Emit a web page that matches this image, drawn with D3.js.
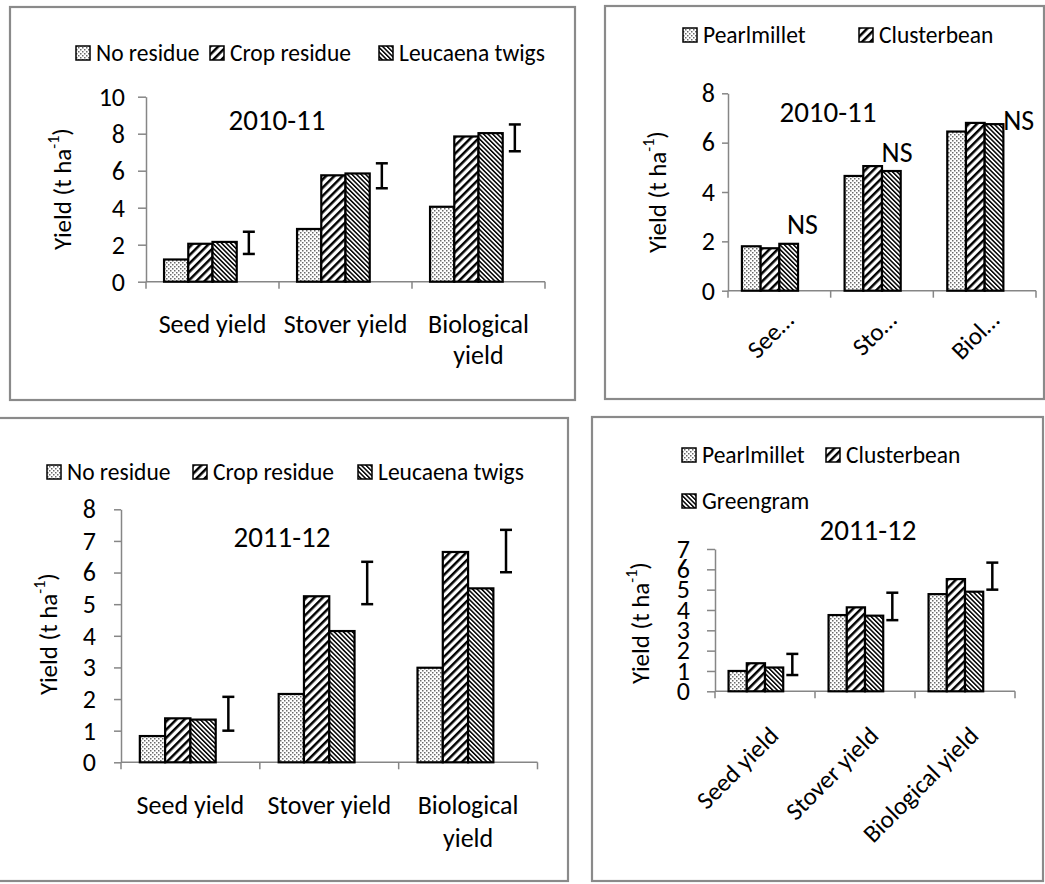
<!DOCTYPE html>
<html>
<head>
<meta charset="utf-8">
<script src="https://cdn.jsdelivr.net/npm/d3@7"></script>
<style>
  html, body { margin: 0; padding: 0; background: #fff; }
  svg { display: block; }
  text { font-family: Carlito, Lato, sans-serif; fill: #000; }
</style>
</head>
<body>
<svg id="fig" width="1045" height="884"></svg>
<script>
// ---- data ----
const categories = ["Seed yield", "Stover yield", "Biological yield"];
const categoriesClipped = ["See…", "Sto…", "Biol…"];
const residueTreatments = ["No residue", "Crop residue", "Leucaena twigs"];
const crops = ["Pearlmillet", "Clusterbean", "Greengram"];

// 2010-11, residue treatments (t ha-1), one array per treatment over categories
const res2010None = [1.2, 2.85, 4.05];
const res2010Crop = [2.05, 5.75, 7.85];
const res2010Leucaena = [2.15, 5.85, 8.03];
const res2010CD = [[1.5, 2.7], [5.05, 6.4], [7.05, 8.5]];

// 2010-11, crops
const crop2010Pearlmillet = [1.8, 4.65, 6.45];
const crop2010Clusterbean = [1.72, 5.05, 6.8];
const crop2010Greengram = [1.9, 4.85, 6.75];
const crop2010NSLevel = [2.7, 5.6, 6.9];

// 2011-12, residue treatments
const res2011None = [0.83, 2.16, 2.99];
const res2011Crop = [1.39, 5.25, 6.65];
const res2011Leucaena = [1.35, 4.15, 5.5];
const res2011CD = [[1.0, 2.07], [5.0, 6.34], [6.01, 7.35]];

// 2011-12, crops
const crop2011Pearlmillet = [1.0, 3.75, 4.78];
const crop2011Clusterbean = [1.38, 4.13, 5.52];
const crop2011Greengram = [1.17, 3.72, 4.9];
const crop2011CD = [[0.8, 1.84], [3.5, 4.85], [5.0, 6.33]];

// tick labels
const ticksTo10 = [0, 2, 4, 6, 8, 10];
const ticksTo8By2 = [0, 2, 4, 6, 8];
const ticksTo8 = [0, 1, 2, 3, 4, 5, 6, 7, 8];
const ticksTo7 = [0, 1, 2, 3, 4, 5, 6, 7];

// ---- drawing ----
const svg = d3.select("#fig");
svg.append("rect").attr("width", 1045).attr("height", 884).attr("fill", "#fff");
const defs = svg.append("defs");

function dotPattern(id) {
  const p = defs.append("pattern").attr("id", id)
    .attr("patternUnits", "userSpaceOnUse").attr("width", 4).attr("height", 4);
  p.append("rect").attr("width", 4).attr("height", 4).attr("fill", "#fff");
  p.append("rect").attr("x", 0).attr("y", 0).attr("width", 1.5).attr("height", 1.5).attr("fill", "#6a6a6a");
  p.append("rect").attr("x", 2).attr("y", 2).attr("width", 1.5).attr("height", 1.5).attr("fill", "#6a6a6a");
}
function stripePattern(id, spacing, thick, angle) {
  const p = defs.append("pattern").attr("id", id)
    .attr("patternUnits", "userSpaceOnUse")
    .attr("width", spacing).attr("height", spacing)
    .attr("patternTransform", `rotate(${angle})`);
  p.append("rect").attr("width", spacing).attr("height", spacing).attr("fill", "#fff");
  p.append("rect").attr("x", 0).attr("y", 0).attr("width", thick).attr("height", spacing).attr("fill", "#000");
}
dotPattern("fillDots");
stripePattern("fillWideUp", 5.8, 2.5, 45);
stripePattern("fillNarrowDown", 3.2, 1.5, -45);
const fills = ["url(#fillDots)", "url(#fillWideUp)", "url(#fillNarrowDown)"];

// font sizes
const FS = { tick: 26, legend: 23.5, title: 29, ylab: 25, sup: 16, cat: 26, ns: 28 };

const panels = [
  {
    frame: [10, 7, 575, 400],
    xRange: [146, 545], yRange: [281.7, 96.7], yMax: 10, ticks: ticksTo10,
    tickLen: 8, tickPad: 13,
    series: [res2010None, res2010Crop, res2010Leucaena], names: residueTreatments,
    legend: [{ i: 0, x: 76, y: 53 }, { i: 1, x: 210, y: 53 }, { i: 2, x: 379, y: 53 }],
    legendGap: 20,
    title: { x: 277, y: 120, text: "2010-11" },
    ylab: { x: 62, y: 189 },
    xlab: { mode: "wrap", y: 324, lineH: 31, labels: categories },
    cd: res2010CD
  },
  {
    frame: [605, 6, 1044, 399],
    xRange: [728, 1036], yRange: [290.7, 93.3], yMax: 8, ticks: ticksTo8By2,
    tickLen: 6, tickPad: 7,
    series: [crop2010Pearlmillet, crop2010Clusterbean, crop2010Greengram], names: crops,
    legend: [{ i: 0, x: 683, y: 35 }, { i: 1, x: 859, y: 35 }],
    legendGap: 20,
    title: { x: 828, y: 112, text: "2010-11" },
    ylab: { x: 657, y: 192 },
    xlab: { mode: "rotate", dx: 16, dy: 31, labels: categoriesClipped },
    ns: crop2010NSLevel, nsShift: [-5, -13, 6]
  },
  {
    frame: [-2, 418, 568, 881],
    xRange: [121, 537.5], yRange: [762.3, 509.3], yMax: 8, ticks: ticksTo8,
    tickLen: 7, tickPad: 18,
    series: [res2011None, res2011Crop, res2011Leucaena], names: residueTreatments,
    legend: [{ i: 0, x: 47, y: 472 }, { i: 1, x: 193, y: 472 }, { i: 2, x: 358, y: 472 }],
    legendGap: 20,
    title: { x: 282, y: 537, text: "2011-12" },
    ylab: { x: 48, y: 634 },
    xlab: { mode: "wrap", y: 805, lineH: 33, labels: categories },
    cd: res2011CD
  },
  {
    frame: [592, 417, 1043, 881],
    xRange: [715, 1015], yRange: [691.3, 549], yMax: 7, ticks: ticksTo7,
    tickLen: 8, tickPad: 17,
    series: [crop2011Pearlmillet, crop2011Clusterbean, crop2011Greengram], names: crops,
    legend: [{ i: 0, x: 682, y: 455 }, { i: 1, x: 826, y: 455 }, { i: 2, x: 682, y: 501 }],
    legendGap: 20,
    title: { x: 868, y: 530, text: "2011-12" },
    ylab: { x: 640, y: 623 },
    xlab: { mode: "rotate", dx: 15, dy: 46, labels: categories },
    cd: crop2011CD
  }
];

function drawPanel(cfg) {
  const g = svg.append("g");
  const [fx0, fy0, fx1, fy1] = cfg.frame;
  g.append("rect")
    .attr("x", fx0).attr("y", fy0).attr("width", fx1 - fx0).attr("height", fy1 - fy0)
    .attr("fill", "none").attr("stroke", "#8a8a8a").attr("stroke-width", 2.2);

  const x = d3.scaleBand().domain(categories).range(cfg.xRange).padding(0);
  const slot = d3.scaleBand().domain([0, 1, 2, 3]).range([0, x.bandwidth()])
    .paddingInner(0).paddingOuter(0.745);
  const y = d3.scaleLinear().domain([0, cfg.yMax]).range(cfg.yRange);
  const bw = slot.bandwidth();
  const slotCenter = (ci, si) => x(categories[ci]) + slot(si) + bw / 2;

  // y axis
  const ya = g.append("g")
    .attr("transform", `translate(${cfg.xRange[0]},0)`)
    .call(d3.axisLeft(y).tickValues(cfg.ticks).tickSize(cfg.tickLen).tickSizeOuter(0)
      .tickPadding(cfg.tickPad).tickFormat(d3.format("d")));
  ya.select(".domain").attr("stroke", "#868686").attr("stroke-width", 1.5);
  ya.selectAll(".tick line").attr("stroke", "#868686").attr("stroke-width", 1.5);
  ya.selectAll(".tick text").attr("font-size", FS.tick)
    .attr("font-family", "Carlito, Lato, sans-serif").attr("fill", "#000");

  // x axis with ticks on category boundaries
  const bounds = categories.map(c => x(c)).concat([cfg.xRange[1]]);
  const y0 = y(0);
  g.append("line").attr("x1", cfg.xRange[0]).attr("x2", cfg.xRange[1])
    .attr("y1", y0).attr("y2", y0).attr("stroke", "#868686").attr("stroke-width", 1.5);
  g.selectAll(null).data(bounds).join("line")
    .attr("x1", d => d).attr("x2", d => d).attr("y1", y0).attr("y2", y0 + 7)
    .attr("stroke", "#868686").attr("stroke-width", 1.5);

  // bars
  cfg.series.forEach((vals, si) => {
    g.selectAll(null).data(vals).join("rect")
      .attr("x", (d, ci) => x(categories[ci]) + slot(si))
      .attr("y", d => y(d))
      .attr("width", bw)
      .attr("height", d => y(0) - y(d))
      .attr("fill", fills[si])
      .attr("stroke", "#000").attr("stroke-width", 2.2);
  });

  // critical-difference bars
  if (cfg.cd) {
    const eb = g.selectAll(null).data(cfg.cd).join("g")
      .attr("stroke", "#000").attr("stroke-width", 2.5);
    eb.append("line")
      .attr("x1", (d, ci) => slotCenter(ci, 3)).attr("x2", (d, ci) => slotCenter(ci, 3))
      .attr("y1", d => y(d[0])).attr("y2", d => y(d[1]));
    eb.append("line")
      .attr("x1", (d, ci) => slotCenter(ci, 3) - 6).attr("x2", (d, ci) => slotCenter(ci, 3) + 6)
      .attr("y1", d => y(d[0])).attr("y2", d => y(d[0]));
    eb.append("line")
      .attr("x1", (d, ci) => slotCenter(ci, 3) - 6).attr("x2", (d, ci) => slotCenter(ci, 3) + 6)
      .attr("y1", d => y(d[1])).attr("y2", d => y(d[1]));
  }
  // non-significant markers
  if (cfg.ns) {
    g.selectAll(null).data(cfg.ns).join("text")
      .attr("x", (d, ci) => slotCenter(ci, 3) + cfg.nsShift[ci])
      .attr("y", d => y(d)).attr("dy", "0.35em")
      .attr("text-anchor", "middle").attr("font-size", FS.ns)
      .text("NS");
  }

  // legend
  const lg = g.selectAll(null).data(cfg.legend).join("g")
    .attr("transform", d => `translate(${d.x},${d.y})`);
  lg.append("rect").attr("x", 0).attr("y", -7).attr("width", 14).attr("height", 14)
    .attr("fill", d => fills[d.i]).attr("stroke", "#000").attr("stroke-width", 1.5);
  lg.append("text").attr("x", cfg.legendGap).attr("y", 0).attr("dy", "0.35em")
    .attr("font-size", FS.legend).text(d => cfg.names[d.i]);

  // title
  g.append("text").attr("x", cfg.title.x).attr("y", cfg.title.y).attr("dy", "0.35em")
    .attr("text-anchor", "middle").attr("font-size", FS.title).text(cfg.title.text);

  // y label
  const yl = g.append("text")
    .attr("transform", `translate(${cfg.ylab.x},${cfg.ylab.y}) rotate(-90)`)
    .attr("text-anchor", "middle").attr("dy", "0.35em").attr("font-size", FS.ylab);
  yl.append("tspan").text("Yield (t ha");
  yl.append("tspan").attr("font-size", FS.sup).attr("dy", "-0.75em").text("-1");
  yl.append("tspan").attr("dy", "0.45em").text(")");

  // category labels
  if (cfg.xlab.mode === "wrap") {
    cfg.xlab.labels.forEach((lab, ci) => {
      const cx = x(categories[ci]) + x.bandwidth() / 2;
      const t = g.append("text").attr("x", cx).attr("y", cfg.xlab.y).attr("dy", "0.35em")
        .attr("text-anchor", "middle").attr("font-size", FS.cat).text(lab);
      if (t.node().getComputedTextLength() > x.bandwidth() - 4) {
        const words = lab.split(" ");
        t.remove();
        words.forEach((w, wi) => {
          g.append("text").attr("x", cx).attr("y", cfg.xlab.y + wi * cfg.xlab.lineH)
            .attr("dy", "0.35em").attr("text-anchor", "middle").attr("font-size", FS.cat).text(w);
        });
      }
    });
  } else {
    cfg.xlab.labels.forEach((lab, ci) => {
      const cx = x(categories[ci]) + x.bandwidth() / 2;
      g.append("text")
        .attr("transform", `translate(${cx + cfg.xlab.dx},${y0 + cfg.xlab.dy}) rotate(-45)`)
        .attr("text-anchor", "end").attr("font-size", FS.cat - 1).text(lab);
    });
  }
}

panels.forEach(drawPanel);
</script>
</body>
</html>
